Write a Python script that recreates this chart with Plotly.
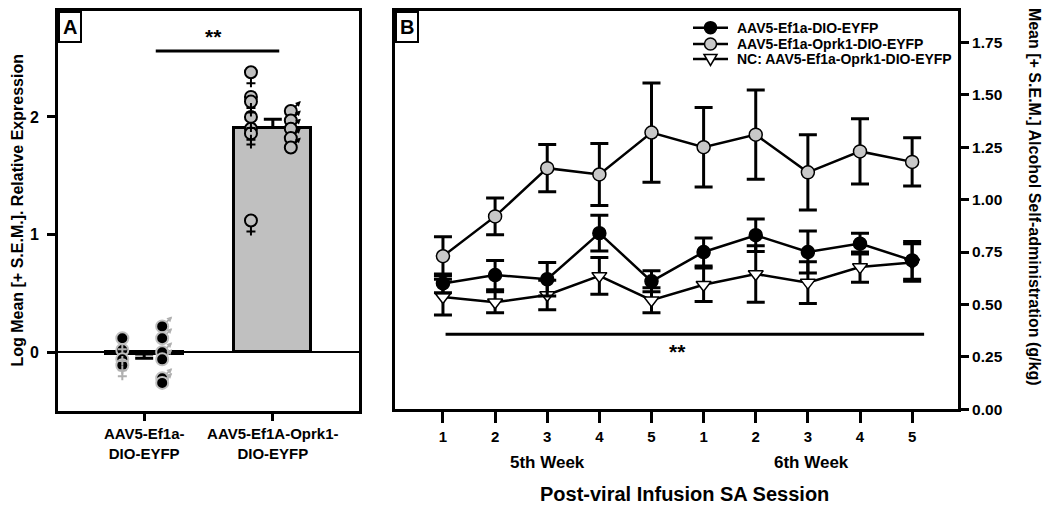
import plotly.graph_objects as go

# ---------------- Panel A data ----------------
groups_a = ["AAV5-Ef1a-<br>DIO-EYFP", "AAV5-Ef1A-Oprk1-<br>DIO-EYFP"]
bar_means_a = [-0.015, 1.91]
bar_sem_up_a = [0.0, 0.07]
bar_sem_down_a = [0.035, 0.0]

female_ctrl = [0.12, 0.02, -0.06, -0.11]
male_ctrl = [0.22, 0.12, 0.0, -0.06, -0.22, -0.26]
female_oprk1 = [2.38, 2.17, 2.13, 2.00, 1.90, 1.86, 1.12]
male_oprk1 = [2.05, 1.97, 1.90, 1.82, 1.74]

# ---------------- Panel B data ----------------
sessions = ["1", "2", "3", "4", "5", "1", "2", "3", "4", "5"]
weeks = ["5th Week", "6th Week"]
ctrl_mean = [0.60, 0.64, 0.62, 0.84, 0.61, 0.75, 0.83, 0.75, 0.79, 0.71]
ctrl_sem = [0.045, 0.07, 0.08, 0.085, 0.05, 0.067, 0.077, 0.10, 0.05, 0.09]
oprk_mean = [0.73, 0.92, 1.15, 1.12, 1.32, 1.25, 1.31, 1.13, 1.23, 1.18]
oprk_sem = [0.093, 0.088, 0.113, 0.148, 0.237, 0.19, 0.213, 0.18, 0.156, 0.115]
nc_mean = [0.535, 0.51, 0.545, 0.636, 0.52, 0.594, 0.645, 0.604, 0.678, 0.70]
nc_sem = [0.085, 0.05, 0.07, 0.088, 0.06, 0.08, 0.135, 0.10, 0.072, 0.09]
series_names = ["AAV5-Ef1a-DIO-EYFP", "AAV5-Ef1a-Oprk1-DIO-EYFP", "NC: AAV5-Ef1a-Oprk1-DIO-EYFP"]

FONT = "Liberation Sans, Arial, sans-serif"
GRAY = "#c0c0c0"
LGRAY = "#c8c8c8"
OFF = 8                       # page body margin of the html
W, H = 1050 - OFF, 516 - OFF  # figure size so the page fills the window

def px_x(p):
    """screen pixel -> paper x"""
    return (p - OFF) / W

def px_y(p):
    """screen pixel -> paper y"""
    return 1 - (p - OFF) / H

def dom(a, b):
    return [max(0.0, a), min(1.0, b)]

fig = go.Figure()
shapes = []
annotations = []

# ----- Panel A -----
fig.add_trace(go.Bar(
    x=[0, 1], y=bar_means_a, width=0.6,
    marker=dict(color=["white", GRAY], line=dict(color="black", width=3)),
    error_y=dict(type="data", symmetric=False, array=bar_sem_up_a, arrayminus=bar_sem_down_a,
                 color="black", thickness=3, width=9),
    xaxis="x", yaxis="y", showlegend=False))

F_OFF, M_OFF = -0.17, 0.14
point_sets = [
    (0 + F_OFF, female_ctrl, "black", GRAY, "f"),
    (0 + M_OFF, male_ctrl, "black", GRAY, "m"),
    (1 + F_OFF, female_oprk1, GRAY, "black", "f"),
    (1 + M_OFF, male_oprk1, GRAY, "black", "m"),
]
FEMALE_PATH = "M 0,-6 L 0,-15 M -4.5,-11 L 4.5,-11"
for xpos, vals, fill, edge, sex in point_sets:
    sym_col = edge if fill == GRAY else "#b0b0b0"
    for v in vals:
        if sex == "f":
            shapes.append(dict(type="path", xref="x", yref="y", xsizemode="pixel", ysizemode="pixel",
                               xanchor=xpos, yanchor=v, path=FEMALE_PATH,
                               line=dict(color=sym_col, width=2)))
        else:
            annotations.append(dict(x=xpos, y=v, xref="x", yref="y", text="",
                                    showarrow=True, xshift=10, yshift=10, ax=-7, ay=7,
                                    arrowhead=2, arrowsize=0.6, arrowwidth=1.8, arrowcolor=sym_col))
    fig.add_trace(go.Scatter(
        x=[xpos] * len(vals), y=vals, mode="markers",
        marker=dict(symbol="circle", size=12, color=fill, line=dict(color=edge, width=2)),
        xaxis="x", yaxis="y", showlegend=False))

# significance A
shapes.append(dict(type="line", x0=0.09, x1=1.05, y0=2.56, y1=2.56, xref="x", yref="y",
                   line=dict(color="black", width=3)))
annotations.append(dict(x=0.535, y=2.68, xref="x", yref="y", text="<b>**</b>", showarrow=False,
                        font=dict(family=FONT, size=21, color="black")))

# ----- Panel B -----
xs = list(range(len(sessions)))
series_style = [
    (ctrl_mean, ctrl_sem, "circle", "black"),
    (oprk_mean, oprk_sem, "circle", LGRAY),
    (nc_mean, nc_sem, "triangle-down", "white"),
]
for idx in [2, 0, 1]:
    mean, sem, sym, col = series_style[idx]
    fig.add_trace(go.Scatter(
        x=xs, y=mean, mode="lines+markers", name=series_names[idx],
        line=dict(color="black", width=2.5),
        marker=dict(symbol=sym, size=13, color=col, line=dict(color="black", width=1.5)),
        error_y=dict(type="data", array=sem, color="black", thickness=3, width=9),
        xaxis="x2", yaxis="y2", showlegend=False))

shapes.append(dict(type="line", x0=0.05, x1=9.23, y0=0.357, y1=0.357, xref="x2", yref="y2",
                   line=dict(color="black", width=3)))
annotations.append(dict(x=4.49, y=0.275, xref="x2", yref="y2", text="<b>**</b>", showarrow=False,
                        font=dict(family=FONT, size=21, color="black")))

# legend (drawn as key samples + labels)
leg_rows = [25, 41.7, 57]
for (mean, sem, sym, col), name, ry in zip(series_style, series_names, leg_rows):
    shapes.append(dict(type="line", xref="paper", yref="paper",
                       x0=px_x(693), x1=px_x(728), y0=px_y(ry), y1=px_y(ry),
                       line=dict(color="black", width=2.5)))
    if sym == "circle":
        shapes.append(dict(type="circle", xref="paper", yref="paper", xsizemode="pixel", ysizemode="pixel",
                           xanchor=px_x(710.5), yanchor=px_y(ry), x0=-6, x1=6, y0=-6, y1=6,
                           fillcolor=col, line=dict(color="black", width=1.5)))
    else:
        shapes.append(dict(type="path", xref="paper", yref="paper", xsizemode="pixel", ysizemode="pixel",
                           xanchor=px_x(710.5), yanchor=px_y(ry), path="M -6.5,4.5 L 6.5,4.5 L 0,-6.5 Z",
                           fillcolor=col, line=dict(color="black", width=1.5)))
    annotations.append(dict(x=px_x(735), y=px_y(ry), xref="paper", yref="paper", xanchor="left",
                            yanchor="middle", text="<b>%s</b>" % name, showarrow=False,
                            font=dict(family=FONT, size=14, color="black")))

for wk, xc in zip(weeks, [2, 7.07]):
    annotations.append(dict(x=xc, y=px_y(469), xref="x2", yref="paper", text="<b>%s</b>" % wk,
                            showarrow=False, xanchor="center", yanchor="middle",
                            font=dict(family=FONT, size=17, color="black")))

annotations.append(dict(x=px_x(684), y=px_y(502), xref="paper", yref="paper",
                        xanchor="center", yanchor="middle",
                        text="<b>Post-viral Infusion SA Session</b>", showarrow=False,
                        font=dict(family=FONT, size=20, color="black")))
annotations.append(dict(x=px_x(1034), y=px_y(198), xref="paper", yref="paper", textangle=90,
                        xanchor="center", yanchor="middle",
                        text="<b>Mean [+ S.E.M.] Alcohol Self-administration (g/kg)</b>", showarrow=False,
                        font=dict(family=FONT, size=16, color="black")))
annotations.append(dict(x=px_x(18), y=px_y(212), xref="paper", yref="paper", textangle=-90,
                        xanchor="center", yanchor="middle",
                        text="<b>Log Mean [+ S.E.M.]. Relative Expression</b>", showarrow=False,
                        font=dict(family=FONT, size=16, color="black")))

for lab, xl in [("A", 58), ("B", 395)]:
    annotations.append(dict(x=px_x(xl), y=1.0, xref="paper", yref="paper", xanchor="left", yanchor="top",
                            text="<b>%s</b>" % lab, showarrow=False, bgcolor="white",
                            bordercolor="black", borderwidth=2, borderpad=3,
                            font=dict(family=FONT, size=20, color="black")))

axis_common = dict(showgrid=False, showline=True, linecolor="black", linewidth=3, mirror=True,
                   ticks="outside", tickwidth=3, tickcolor="black")

fig.update_layout(
    width=W, height=H,
    margin=dict(l=0, r=0, t=0, b=0),
    paper_bgcolor="white", plot_bgcolor="white",
    font=dict(family=FONT, color="black"),
    showlegend=False,
    xaxis=dict(domain=dom(px_x(58), px_x(359)), range=[-0.67, 1.67], tickvals=[0, 1], ticktext=groups_a,
               ticklen=7, ticklabelstandoff=0, zeroline=False, anchor="y",
               tickfont=dict(family=FONT, size=15, color="black", weight="bold"), **axis_common),
    yaxis=dict(domain=dom(px_y(417), px_y(7)), range=[-0.5, 2.9], tickvals=[0, 1, 2], ticklen=8,
               ticklabelstandoff=5,
               zeroline=True, zerolinecolor="black", zerolinewidth=2, anchor="x",
               tickfont=dict(family=FONT, size=16, color="black", weight="bold"), **axis_common),
    xaxis2=dict(domain=dom(px_x(395), px_x(958)), range=[-0.92, 9.88], tickvals=xs, ticktext=sessions,
                ticklen=11, ticklabelstandoff=1, zeroline=False, anchor="y2",
                tickfont=dict(family=FONT, size=15, color="black", weight="bold"), **axis_common),
    yaxis2=dict(domain=dom(px_y(415), px_y(7)), range=[0, 1.9], tickvals=[0, 0.25, 0.5, 0.75, 1.0, 1.25, 1.5, 1.75],
                tickformat=".2f", ticklen=8, side="right", zeroline=False, anchor="x2",
                tickfont=dict(family=FONT, size=15.5, color="black", weight="bold"), **axis_common),
    shapes=shapes,
    annotations=annotations,
    bargap=0,
)

fig.write_html("out.html")
